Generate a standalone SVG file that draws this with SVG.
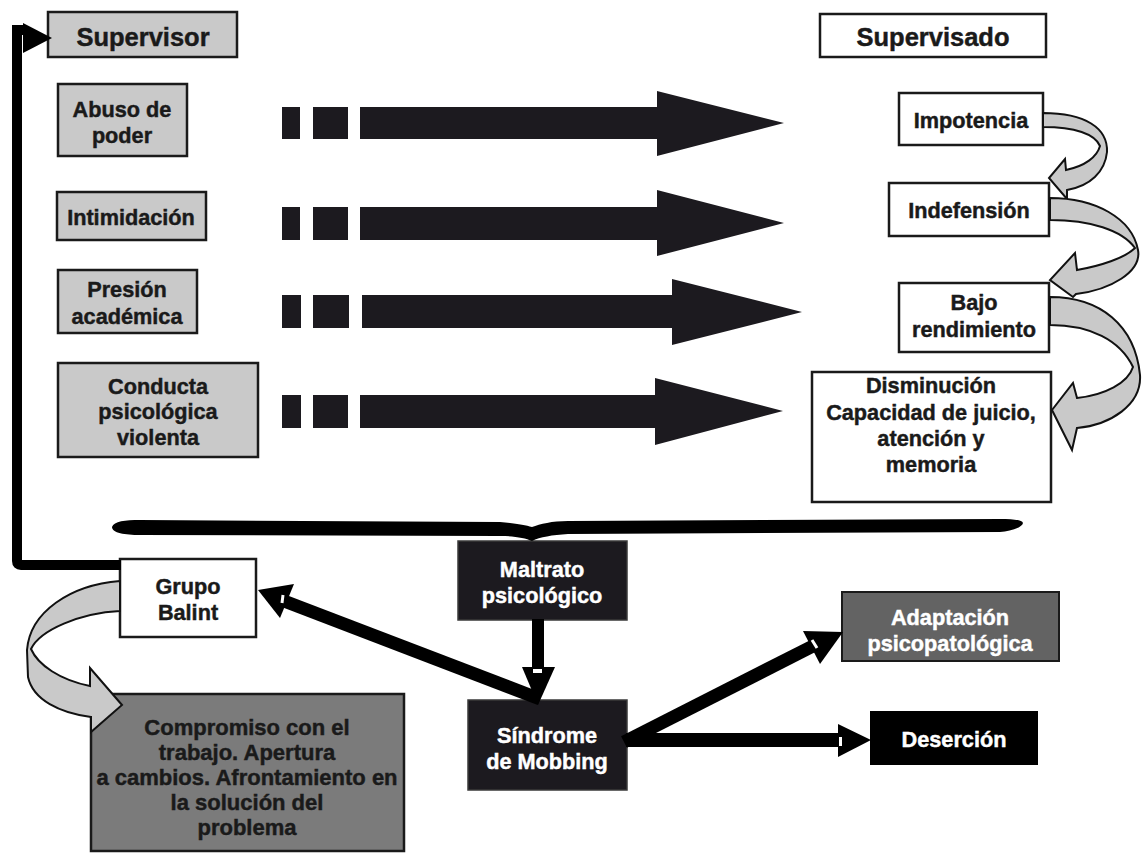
<svg xmlns="http://www.w3.org/2000/svg" width="1142" height="856" viewBox="0 0 1142 856">
<style>
text{font-family:"Liberation Sans",Arial,sans-serif;font-weight:bold;font-size:21.7px;text-anchor:middle;fill:#1a1a1a;stroke:#1a1a1a;stroke-width:0.45}
.lt{fill:#c9c9c9;stroke:#1a1a1a;stroke-width:2.5}
.wt{fill:#ffffff;stroke:#1a1a1a;stroke-width:2.5}
.dk{fill:#1c1a1f;stroke:#3a3a3a;stroke-width:1.5}
.bk{fill:#000000}
.md{fill:#7b7b7b;stroke:#1a1a1a;stroke-width:2.5}
.ad{fill:#636363;stroke:#1a1a1a;stroke-width:2}
text.inv{fill:#ffffff;stroke:#ffffff}
text.big{font-size:25.5px}
text.cp{font-size:22px}
.rib{fill:#c9c9c9;stroke:#111;stroke-width:2;stroke-linejoin:miter}
.ar{fill:#1c1a1f}
.sh{stroke:#000;stroke-width:13;fill:none}
.tick{fill:#ffffff}
</style>

<g id="supervisor">
  <rect class="lt" x="48" y="12" width="189" height="45"/>
  <text class="big" x="143" y="46">Supervisor</text>
</g>
<g id="supervisado">
  <rect class="wt" x="820" y="14" width="226" height="43"/>
  <text class="big" x="933" y="46">Supervisado</text>
</g>

<g id="abuso">
  <rect class="lt" x="58" y="84" width="129" height="72"/>
  <text x="122" y="117">Abuso de</text>
  <text x="122" y="143">poder</text>
</g>
<g id="intimidacion">
  <rect class="lt" x="57" y="192" width="149" height="48"/>
  <text x="131" y="225">Intimidación</text>
</g>
<g id="presion">
  <rect class="lt" x="58" y="270" width="139" height="63"/>
  <text x="127" y="297">Presión</text>
  <text x="127" y="324">académica</text>
</g>
<g id="conducta">
  <rect class="lt" x="58" y="363" width="200" height="94"/>
  <text x="158" y="394">Conducta</text>
  <text x="158" y="419">psicológica</text>
  <text x="158" y="445">violenta</text>
</g>

<g id="impotencia">
  <rect class="wt" x="899" y="93" width="144" height="52"/>
  <text x="971" y="128">Impotencia</text>
</g>
<g id="indefension">
  <rect class="wt" x="889" y="183" width="160" height="53"/>
  <text x="969" y="218">Indefensión</text>
</g>
<g id="bajo">
  <rect class="wt" x="899" y="283" width="150" height="69"/>
  <text x="974" y="310">Bajo</text>
  <text x="974" y="337">rendimiento</text>
</g>
<g id="disminucion">
  <rect class="wt" x="812" y="372" width="239" height="130"/>
  <text x="931" y="393">Disminución</text>
  <text x="931" y="420">Capacidad de juicio,</text>
  <text x="931" y="446">atención y</text>
  <text x="931" y="472">memoria</text>
</g>

<g id="maltrato">
  <rect class="dk" x="458" y="541" width="169" height="79"/>
  <text class="inv" x="542" y="577">Maltrato</text>
  <text class="inv" x="542" y="603">psicológico</text>
</g>
<g id="grupo">
  <rect class="wt" x="120" y="559" width="136" height="78"/>
  <text x="188" y="594">Grupo</text>
  <text x="188" y="620">Balint</text>
</g>
<g id="sindrome">
  <rect class="dk" x="468" y="700" width="159" height="90"/>
  <text class="inv" x="547" y="743">Síndrome</text>
  <text class="inv" x="547" y="769">de Mobbing</text>
</g>
<g id="adaptacion">
  <rect class="ad" x="842" y="592" width="217" height="69"/>
  <text class="inv" x="950" y="625">Adaptación</text>
  <text class="inv" x="950" y="651">psicopatológica</text>
</g>
<g id="desercion">
  <rect class="bk" x="870" y="711" width="168" height="54"/>
  <text class="inv" x="954" y="747">Deserción</text>
</g>
<g id="compromiso">
  <rect class="md" x="91" y="694" width="313" height="157"/>
  <text class="cp" x="247" y="735">Compromiso con el</text>
  <text class="cp" x="247" y="760">trabajo. Apertura</text>
  <text class="cp" x="247" y="785">a cambios. Afrontamiento en</text>
  <text class="cp" x="247" y="810">la solución del</text>
  <text class="cp" x="247" y="835">problema</text>
</g>

<g id="connectors">
  <!-- feedback line from Grupo Balint to Supervisor -->
  <path d="M121,565 H21 Q17,565 17,561 V30 H26" fill="none" stroke="#000" stroke-width="10"/>
  <polygon points="23,23 52,38 23,53" fill="#000"/>

  <!-- horizontal dashed arrows -->
  <g class="ar">
    <rect x="282" y="107" width="18" height="32"/>
    <rect x="313" y="107" width="35" height="32"/>
    <polygon points="360,107 657,107 657,91 784,123 657,156 657,139 360,139"/>

    <rect x="282" y="207" width="18" height="33"/>
    <rect x="313" y="207" width="35" height="33"/>
    <polygon points="360,207 657,207 657,190 784,223 657,256 657,240 360,240"/>

    <rect x="282" y="295" width="19" height="33"/>
    <rect x="313" y="295" width="36" height="33"/>
    <polygon points="362,295 672,295 672,279 802,312 672,345 672,328 362,328"/>

    <rect x="282" y="395" width="19" height="33"/>
    <rect x="313" y="395" width="35" height="33"/>
    <polygon points="360,395 655,395 655,378 783,411 655,445 655,428 360,428"/>
  </g>

  <!-- curved ribbon arrows on the right -->
  <path class="rib" d="M1043,113 C1085,113 1108,128 1107,152 C1105,172 1090,186 1067,190 L1067,199 L1049,178 L1065,159 L1066,170 C1085,166 1097,157 1100,146 C1095,134 1075,127 1043,127 Z"/>
  <path class="rib" d="M1050,198 C1095,198 1132,218 1138,250 C1142,272 1110,290 1076,294 L1073,297 L1050,280 L1075,253 L1077,270 C1100,266 1125,258 1135,248 C1122,230 1090,220 1050,220 Z"/>
  <path class="rib" d="M1050,297 C1100,297 1135,325 1140,375 C1142,405 1110,425 1077,428 L1072,450 L1052,410 L1073,383 L1077,398 C1105,395 1128,383 1133,367 C1120,340 1090,325 1050,325 Z"/>

  <!-- curved ribbon arrow Grupo Balint -> Compromiso -->
  <path class="rib" d="M120,581 C70,585 30,612 27,650 L28,677 C33,700 60,713 91,717 L91,732 L122,705 L90,668 L90,686 C60,680 38,665 31,649 C40,630 80,613 120,611 Z"/>

  <!-- brace -->
  <path fill="#000" d="M112,527 C114,521 125,520 140,520 L500,522 C515,523 525,525 532,527 C540,524 552,521 568,521 L1000,519 C1014,519 1022,520 1023,523 C1022,528 1010,531 1000,532 L568,534 C552,535 540,537 532,541 C525,538 515,536 500,536 L140,535 C125,535 112,533 112,527 Z"/>

  <!-- Maltrato -> Sindrome -->
  <rect x="532" y="619" width="12" height="50" fill="#000"/>
  <polygon points="522,667 555,667 538,705" fill="#000"/>
  <rect class="tick" x="533" y="669" width="9" height="4"/>

  <!-- Sindrome -> Grupo Balint -->
  <line class="sh" x1="540" y1="699" x2="284" y2="601"/>
  <polygon points="258,590 294,584 280,618" fill="#000"/>
  <line x1="283" y1="595" x2="282" y2="603" stroke="#fff" stroke-width="3"/>

  <!-- Sindrome -> Adaptacion -->
  <line class="sh" x1="624" y1="742" x2="813" y2="646"/>
  <polygon points="803,631 843,632 820,664" fill="#000"/>
  <line x1="812" y1="640" x2="817" y2="648" stroke="#fff" stroke-width="3"/>

  <!-- Sindrome -> Desercion -->
  <rect x="626" y="733" width="214" height="14" fill="#000"/>
  <polygon points="838,724 871,740 838,757" fill="#000"/>
  <rect class="tick" x="839" y="737" width="3" height="9"/>
</g>
</svg>
